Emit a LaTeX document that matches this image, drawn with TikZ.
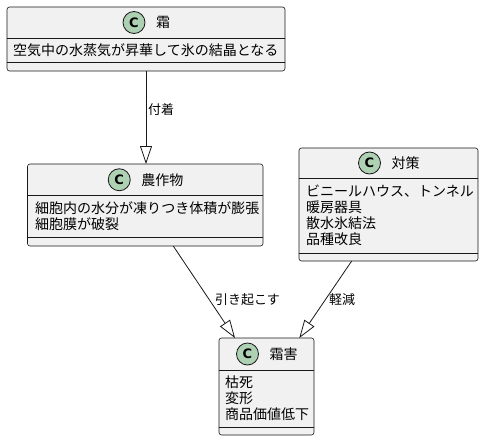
\documentclass[tikz,border=0pt]{standalone}
\usepackage{fontspec}
\setmainfont{Noto Sans CJK JP}
\newfontfamily\circfont{DejaVu Sans}
\usetikzlibrary{arrows.meta,calc}
\definecolor{boxfill}{HTML}{F1F1F1}
\definecolor{boxline}{HTML}{181818}
\definecolor{circfill}{HTML}{ADD1B2}
\tikzset{
  classbox/.style={draw=boxline, fill=boxfill, line width=0.6pt, rounded corners=2.5pt, inner sep=0pt, outer sep=0pt},
  sepline/.style={draw=boxline, line width=0.6pt},
  cmark/.style={circle, draw=boxline, fill=circfill, line width=0.8pt, minimum size=22pt, inner sep=0pt, font=\circfont\bfseries\fontsize{13}{13}\selectfont},
  cname/.style={anchor=west, inner sep=0pt, font=\fontsize{14}{16}\selectfont},
  attrs/.style={anchor=west, inner sep=0pt, align=left, font=\fontsize{14}{16}\selectfont},
  elabel/.style={anchor=west, inner sep=0pt, font=\fontsize{13}{15}\selectfont},
  ext/.style={draw=boxline, line width=0.8pt, -{Triangle[open, length=18pt, width=12pt, line width=0.8pt]}},
}
\begin{document}
\begin{tikzpicture}[x=1pt,y=-1pt]
\useasboundingbox (0,0) rectangle (484,441);
% boxes
\node[classbox, minimum width=278pt, minimum height=64pt] (shimo) at (146,39) {};
\node[classbox, minimum width=235.5pt, minimum height=82pt] (crop) at (145.25,205) {};
\node[classbox, minimum width=179pt, minimum height=113pt] (taisaku) at (388.5,204.5) {};
\node[classbox, minimum width=95pt, minimum height=97pt] (harm) at (266.5,386.5) {};
% separators
\draw[sepline] ([yshift=-31pt]shimo.north west) -- ([yshift=-31pt]shimo.north east);
\draw[sepline] ([yshift=-55pt]shimo.north west) -- ([yshift=-55pt]shimo.north east);
\draw[sepline] ([yshift=-31.5pt]crop.north west) -- ([yshift=-31.5pt]crop.north east);
\draw[sepline] ([yshift=-73pt]crop.north west) -- ([yshift=-73pt]crop.north east);
\draw[sepline] ([yshift=-30pt]taisaku.north west) -- ([yshift=-30pt]taisaku.north east);
\draw[sepline] ([yshift=-105pt]taisaku.north west) -- ([yshift=-105pt]taisaku.north east);
\draw[sepline] ([yshift=-32pt]harm.north west) -- ([yshift=-32pt]harm.north east);
\draw[sepline] ([yshift=-89pt]harm.north west) -- ([yshift=-89pt]harm.north east);
% headers
\node[cmark] (c1) at (134,22.5) {C};
\node[cname] (n1) at (156,22.5) {霜};
\node[cmark] (c2) at (119.25,179.75) {C};
\node[cname] (n2) at (141.25,179.75) {農作物};
\node[cmark] (c3) at (369.5,163) {C};
\node[cname] (n3) at (391.5,163) {対策};
\node[cmark] (c4) at (247.5,354) {C};
\node[cname] (n4) at (269.5,354) {霜害};
% attributes
\node[attrs] (a1) at (13,50) {空気中の水蒸気が昇華して氷の結晶となる};
\node[attrs] (a2) at (35,216.25) {細胞内の水分が凍りつき体積が膨張\\細胞膜が破裂};
\node[attrs] (a3) at (306,215.5) {ビニールハウス、トンネル\\暖房器具\\散水氷結法\\品種改良};
\node[attrs] (a4) at (225,398.5) {枯死\\変形\\商品価値低下};
% connectors
\draw[ext] (shimo.south) -- (shimo.south |- crop.north);
\draw[ext] ([xshift=28pt]crop.south) -- ([xshift=-31.5pt]harm.north);
\draw[ext] ([xshift=-36.8pt]taisaku.south) -- ([xshift=32.8pt]harm.north);
% labels
\node[elabel] (l1) at (148,110) {付着};
\node[elabel] (l2) at (215,300) {引き起こす};
\node[elabel] (l3) at (329,300) {軽減};
\end{tikzpicture}
\end{document}
